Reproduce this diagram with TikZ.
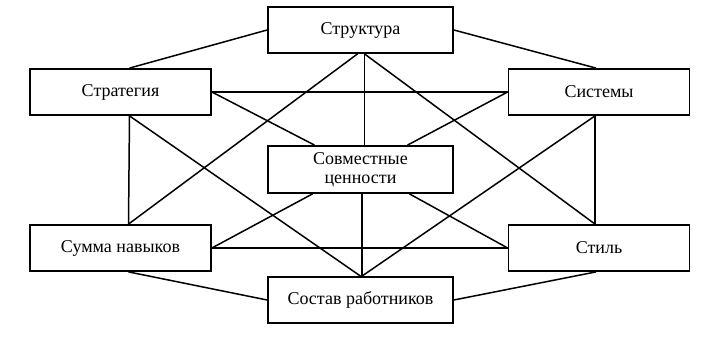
\documentclass[tikz,border=0pt]{standalone}
\usepackage{fontspec}
\setmainfont{Liberation Serif}
\begin{document}
\begin{tikzpicture}[x=1pt,y=-1pt,
  box/.style={draw,line width=1.8pt,minimum height=46pt,inner sep=0pt,align=center,font=\fontsize{18}{20}\selectfont},
  sbox/.style={box,minimum width=181pt},
  cbox/.style={box,minimum width=185pt},
  link/.style={line width=1.5pt}]
\useasboundingbox (0,0) rectangle (715,344);
\node[cbox] (str) at (360.5,30) {Структура};
\node[sbox] (strat) at (120.5,92) {Стратегия};
\node[sbox] (sys) at (599,92) {Системы};
\node[cbox,minimum height=47pt] (val) at (360.5,169.5) {Совместные\\[-1pt]ценности};
\node[sbox] (skill) at (120.5,248) {Сумма навыков};
\node[sbox] (style) at (599,248) {Стиль};
\node[cbox] (staff) at (360.5,300) {Состав работников};
% outer ring
\draw[link] ([xshift=9pt]strat.north) -- (str.west);
\draw[link] (str.east) -- ([xshift=-3pt]sys.north);
\draw[link] ([xshift=8pt]skill.south) -- (staff.west);
\draw[link] ([xshift=-3pt]style.south) -- (staff.east);
% horizontals and verticals
\draw[link] (strat.east) -- (sys.west);
\draw[link] (skill.east) -- (style.west);
\draw[link] ([xshift=9pt]strat.south) -- ([xshift=8pt]skill.north);
\draw[link] ([xshift=-4pt]sys.south) -- ([xshift=-4pt]style.north);
\draw[link] ([xshift=4pt]str.south) -- ([xshift=4pt]val.north);
\draw[link] ([xshift=1.5pt]val.south) -- ([xshift=1.5pt]staff.north);
% diagonals
\draw[link] ([xshift=-3pt]str.south) -- ([xshift=8pt]skill.north);
\draw[link] ([xshift=4pt]str.south) -- ([xshift=-4pt]style.north);
\draw[link] ([xshift=9pt]strat.south) -- ([xshift=0pt]staff.north);
\draw[link] ([xshift=-4pt]sys.south) -- ([xshift=1.5pt]staff.north);
\draw[link] (strat.east) -- ([xshift=-46pt]val.north);
\draw[link] (sys.west) -- ([xshift=47pt]val.north);
\draw[link] (skill.east) -- ([xshift=-48pt]val.south);
\draw[link] (style.west) -- ([xshift=49pt]val.south);
\end{tikzpicture}
\end{document}
